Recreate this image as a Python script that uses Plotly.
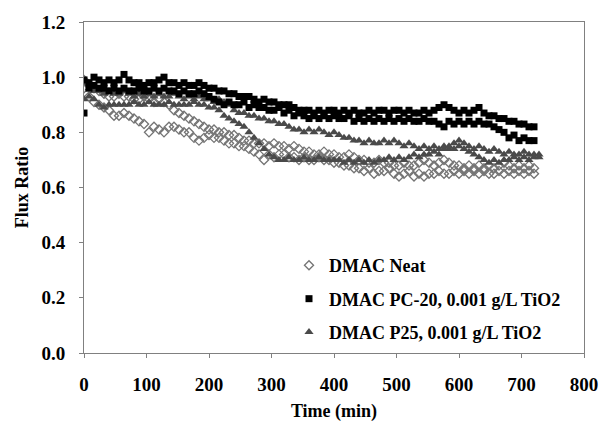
import plotly.graph_objects as go

# Sampling grid (minutes)
TIME_720 = list(range(0, 721, 8))   # 0..720
TIME_728 = list(range(0, 729, 8))   # 0..728

# DMAC Neat (two runs)
NEAT_A = [0.96, 0.93, 0.91, 0.90, 0.89, 0.88, 0.86, 0.86, 0.87, 0.86, 0.85, 0.84, 0.83, 0.80, 0.82, 0.81,
          0.80, 0.82, 0.82, 0.81, 0.80, 0.80, 0.78, 0.77, 0.78, 0.79, 0.78, 0.78, 0.77, 0.76, 0.76, 0.75,
          0.75, 0.74, 0.73, 0.72, 0.70, 0.72, 0.71, 0.72, 0.72, 0.71, 0.71, 0.70, 0.71, 0.70, 0.70, 0.71,
          0.70, 0.70, 0.69, 0.69, 0.68, 0.68, 0.67, 0.67, 0.66, 0.67, 0.65, 0.66, 0.66, 0.67, 0.65, 0.64,
          0.65, 0.66, 0.64, 0.65, 0.64, 0.65, 0.65, 0.66, 0.65, 0.65, 0.66, 0.65, 0.66, 0.65, 0.66, 0.65,
          0.66, 0.65, 0.65, 0.66, 0.65, 0.66, 0.65, 0.66, 0.65, 0.66, 0.65]
NEAT_B = [0.99, 0.97, 0.96, 0.95, 0.94, 0.93, 0.93, 0.94, 0.93, 0.93, 0.92, 0.92, 0.93, 0.92, 0.91, 0.92,
          0.91, 0.90, 0.88, 0.87, 0.86, 0.85, 0.84, 0.83, 0.82, 0.81, 0.81, 0.80, 0.80, 0.79, 0.79, 0.78,
          0.77, 0.77, 0.76, 0.76, 0.76, 0.75, 0.76, 0.75, 0.75, 0.74, 0.75, 0.74, 0.73, 0.73, 0.72, 0.72,
          0.73, 0.72, 0.72, 0.71, 0.71, 0.72, 0.71, 0.70, 0.70, 0.69, 0.69, 0.70, 0.69, 0.69, 0.68, 0.68,
          0.69, 0.68, 0.68, 0.69, 0.70, 0.69, 0.68, 0.69, 0.70, 0.69, 0.68, 0.68, 0.67, 0.68, 0.67, 0.68,
          0.67, 0.68, 0.67, 0.68, 0.69, 0.68, 0.67, 0.68, 0.67, 0.68, 0.67]

# DMAC PC-20, 0.001 g/L TiO2 (two runs)
PC20_A = [0.99, 0.98, 1.00, 0.99, 0.98, 0.99, 0.98, 0.99, 1.01, 0.99, 0.98, 0.98, 0.97, 0.98, 0.98, 0.99,
          1.00, 0.98, 0.98, 0.97, 0.98, 0.97, 0.97, 0.98, 0.97, 0.96, 0.96, 0.95, 0.95, 0.94, 0.94, 0.93,
          0.93, 0.93, 0.92, 0.91, 0.92, 0.91, 0.91, 0.90, 0.90, 0.90, 0.89, 0.88, 0.88, 0.88, 0.87, 0.88,
          0.87, 0.88, 0.88, 0.87, 0.88, 0.87, 0.88, 0.87, 0.87, 0.88, 0.87, 0.88, 0.88, 0.87, 0.88, 0.88,
          0.87, 0.88, 0.87, 0.87, 0.88, 0.87, 0.88, 0.89, 0.90, 0.89, 0.88, 0.87, 0.88, 0.87, 0.88, 0.89,
          0.87, 0.86, 0.86, 0.85, 0.85, 0.84, 0.84, 0.83, 0.83, 0.82, 0.82]
PC20_B = [0.87, 0.96, 0.97, 0.96, 0.96, 0.95, 0.96, 0.95, 0.96, 0.95, 0.95, 0.96, 0.95, 0.95, 0.96, 0.95,
          0.96, 0.95, 0.95, 0.94, 0.95, 0.94, 0.94, 0.95, 0.94, 0.93, 0.92, 0.91, 0.90, 0.91, 0.90, 0.90,
          0.91, 0.89, 0.90, 0.89, 0.89, 0.88, 0.88, 0.89, 0.87, 0.88, 0.86, 0.87, 0.86, 0.85, 0.86, 0.85,
          0.86, 0.85, 0.86, 0.85, 0.85, 0.86, 0.84, 0.85, 0.84, 0.85, 0.84, 0.85, 0.84, 0.85, 0.84, 0.85,
          0.84, 0.85, 0.84, 0.84, 0.85, 0.84, 0.84, 0.83, 0.82, 0.84, 0.83, 0.84, 0.83, 0.84, 0.83, 0.84,
          0.83, 0.83, 0.82, 0.81, 0.80, 0.78, 0.79, 0.77, 0.78, 0.77, 0.77]

# DMAC P25, 0.001 g/L TiO2 (two runs)
P25_A = [0.98, 0.96, 0.95, 0.95, 0.94, 0.95, 0.94, 0.94, 0.95, 0.94, 0.93, 0.94, 0.93, 0.94, 0.93, 0.94,
         0.93, 0.93, 0.94, 0.93, 0.92, 0.93, 0.92, 0.93, 0.92, 0.92, 0.91, 0.92, 0.91, 0.90, 0.88, 0.87,
         0.87, 0.86, 0.86, 0.85, 0.85, 0.84, 0.84, 0.83, 0.83, 0.82, 0.81, 0.81, 0.80, 0.81, 0.80, 0.81,
         0.80, 0.79, 0.80, 0.79, 0.78, 0.78, 0.77, 0.77, 0.76, 0.77, 0.76, 0.76, 0.77, 0.76, 0.77, 0.76,
         0.75, 0.76, 0.75, 0.74, 0.75, 0.74, 0.75, 0.74, 0.75, 0.74, 0.76, 0.77, 0.76, 0.75, 0.74, 0.75,
         0.74, 0.73, 0.74, 0.73, 0.72, 0.73, 0.72, 0.72, 0.73, 0.72, 0.72, 0.72]
P25_B = [0.92, 0.93, 0.92, 0.90, 0.89, 0.90, 0.90, 0.90, 0.90, 0.90, 0.91, 0.90, 0.90, 0.91, 0.90, 0.90,
         0.90, 0.91, 0.90, 0.90, 0.90, 0.90, 0.91, 0.90, 0.90, 0.89, 0.89, 0.88, 0.86, 0.85, 0.84, 0.83,
         0.82, 0.80, 0.78, 0.76, 0.74, 0.72, 0.71, 0.70, 0.70, 0.71, 0.70, 0.70, 0.71, 0.70, 0.70, 0.71,
         0.70, 0.70, 0.70, 0.70, 0.69, 0.70, 0.69, 0.70, 0.69, 0.70, 0.69, 0.70, 0.70, 0.71, 0.70, 0.71,
         0.70, 0.71, 0.72, 0.71, 0.72, 0.72, 0.73, 0.72, 0.74, 0.75, 0.74, 0.75, 0.74, 0.73, 0.72, 0.71,
         0.70, 0.69, 0.70, 0.69, 0.70, 0.70, 0.71, 0.70, 0.71, 0.70, 0.71, 0.71]

SERIES_NAMES = ["DMAC Neat", "DMAC PC-20, 0.001 g/L TiO2", "DMAC P25, 0.001 g/L TiO2"]
X_TICKS = [0, 100, 200, 300, 400, 500, 600, 700, 800]
Y_TICKS = [0.0, 0.2, 0.4, 0.6, 0.8, 1.0, 1.2]

FONT = "Liberation Serif"

fig = go.Figure()

fig.add_trace(go.Scatter(
    x=TIME_720 + TIME_720, y=NEAT_A + NEAT_B, mode="markers", name=SERIES_NAMES[0],
    legendgroup="a", legendrank=1,
    marker=dict(symbol="diamond-open", size=7, color="#747474", line=dict(width=1.3, color="#747474")),
))
fig.add_trace(go.Scatter(
    x=TIME_728 + TIME_728, y=P25_A + P25_B, mode="markers", name=SERIES_NAMES[2],
    legendgroup="c", legendrank=3,
    marker=dict(symbol="triangle-up", size=8, color="#4a4a4a", line=dict(width=0)),
))
fig.add_trace(go.Scatter(
    x=TIME_720 + TIME_720, y=PC20_A + PC20_B, mode="markers", name=SERIES_NAMES[1],
    legendgroup="b", legendrank=2,
    marker=dict(symbol="square", size=7, color="#000000", line=dict(width=0)),
))

fig.update_layout(
    width=610, height=429,
    margin=dict(l=84, r=17, t=21, b=74),
    paper_bgcolor="white", plot_bgcolor="white",
    font=dict(family=FONT, color="black"),
    showlegend=True,
    legend=dict(
        x=0.41, y=0.32, xanchor="left", yanchor="top",
        bgcolor="rgba(0,0,0,0)", borderwidth=0,
        font=dict(family=FONT, size=18, weight="bold", color="black"),
        tracegroupgap=7, itemwidth=30,
    ),
    xaxis=dict(
        range=[0, 800], tickvals=X_TICKS, ticktext=[str(v) for v in X_TICKS],
        ticks="outside", ticklen=4, tickcolor="#808080",
        showline=True, linecolor="#808080", linewidth=1, mirror=True,
        showgrid=False, zeroline=False, ticklabelstandoff=10,
        tickfont=dict(family=FONT, size=19, weight="bold"),
        title=dict(text="Time (min)", font=dict(family=FONT, size=18, weight="bold"), standoff=10),
    ),
    yaxis=dict(
        range=[0, 1.2], tickvals=Y_TICKS, ticktext=[f"{v:.1f}" for v in Y_TICKS],
        ticks="outside", ticklen=4, tickcolor="#808080",
        showline=True, linecolor="#808080", linewidth=1, mirror=True,
        showgrid=False, zeroline=False, ticklabelstandoff=10,
        tickfont=dict(family=FONT, size=19, weight="bold"),
        title=dict(text="Flux Ratio", font=dict(family=FONT, size=18, weight="bold"), standoff=8),
    ),
)

fig.write_html("out.html")
